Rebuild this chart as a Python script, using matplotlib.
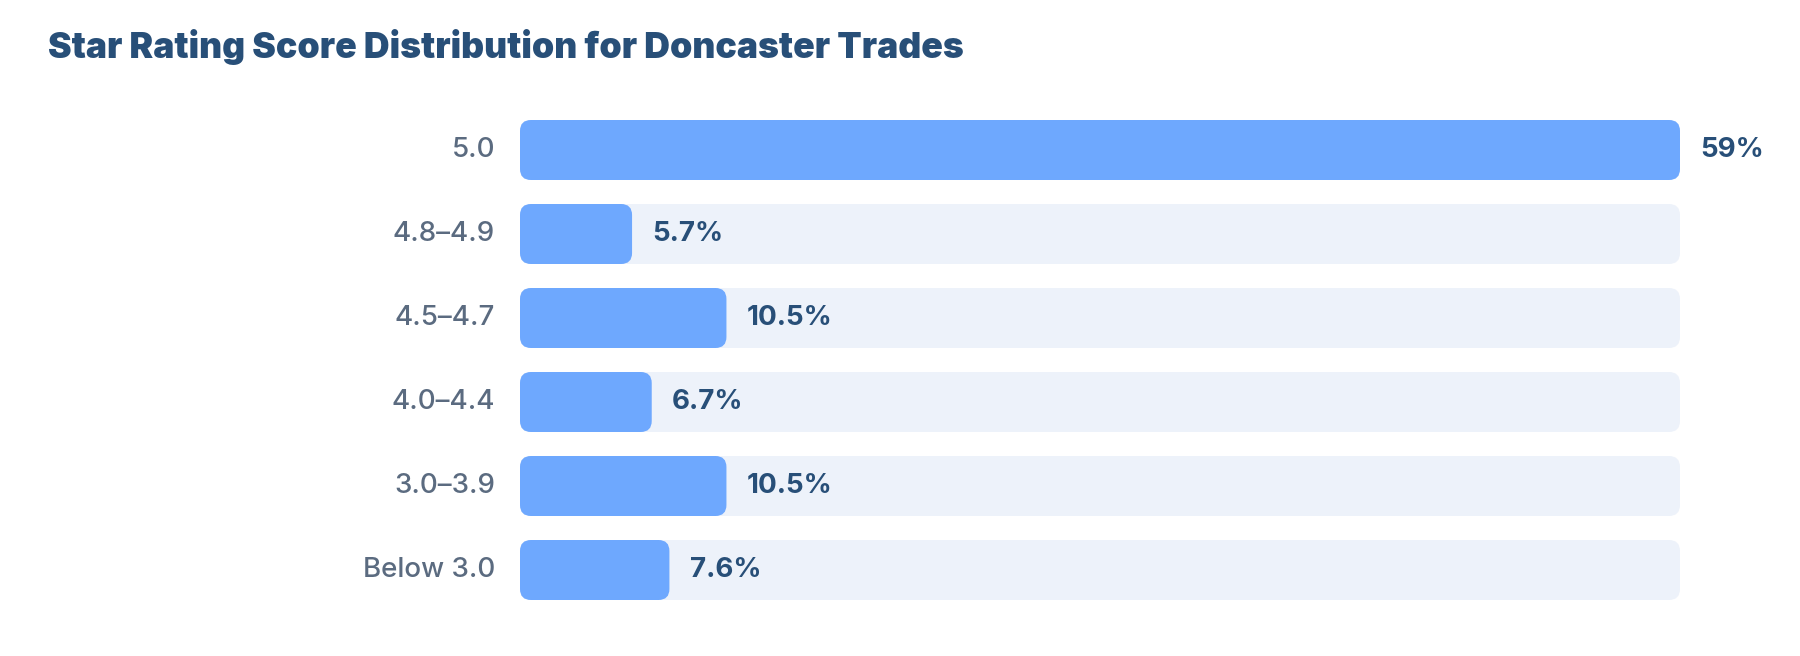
import matplotlib
matplotlib.use("Agg")
import matplotlib.pyplot as plt
from matplotlib.patches import FancyBboxPatch

# data
categories = ["5.0", "4.8\u20134.9", "4.5\u20134.7", "4.0\u20134.4", "3.0\u20133.9", "Below 3.0"]
shares = [59, 5.7, 10.5, 6.7, 10.5, 7.6]
value_labels = ["59%", "5.7%", "10.5%", "6.7%", "10.5%", "7.6%"]
title = "Star Rating Score Distribution for Doncaster Trades"

W, H = 1800, 656
bar_col = "#6ea8fe"
track_col = "#edf2fa"
dark = "#284f78"
grey = "#5b6b80"

plt.rcParams['font.family'] = ['Inter', 'DejaVu Sans']

fig = plt.figure(figsize=(W / 100, H / 100), dpi=100)
fig.patch.set_facecolor("white")

# axes placed in pixels: track from x=520 to 1680, rows from y=108 to 612
left, right, top, bottom = 520, 1680, 108, 612
ax = fig.add_axes((left / W, 1 - bottom / H, (right - left) / W, (bottom - top) / H))
xmax = max(shares)
n = len(categories)
ax.set_xlim(0, xmax)
ax.set_ylim(n - 0.5, -0.5)
ax.axis("off")

bh = 60 / 84
px_x = (right - left) / xmax
px_y = (bottom - top) / n
aspect = px_x / px_y
r = 11 / px_x

for i, (cat, v, lab) in enumerate(zip(categories, shares, value_labels)):
    track = FancyBboxPatch((0, i - bh / 2), xmax, bh,
                           boxstyle="round,pad=0,rounding_size=%f" % r,
                           mutation_aspect=aspect, fc=track_col, ec="none", zorder=1)
    ax.add_patch(track)
    bar = FancyBboxPatch((0, i - bh / 2), v, bh,
                         boxstyle="round,pad=0,rounding_size=%f" % r,
                         mutation_aspect=aspect, fc=bar_col, ec="none", zorder=2)
    ax.add_patch(bar)
    ax.annotate(lab, (v, i), xytext=(14.5, 0), textcoords="offset points",
                ha="left", va="center", fontsize=20, fontweight="bold", color=dark)
    ax.annotate(cat, (0, i), xytext=(-18, 0), textcoords="offset points",
                ha="right", va="center", fontsize=20, fontweight="medium", color=grey)

fig.text(48 / W, 1 - 58 / H, title, ha="left", va="baseline",
         fontsize=25.6, fontweight="black", color=dark)

fig.savefig("out.png", dpi=100, facecolor="white")
